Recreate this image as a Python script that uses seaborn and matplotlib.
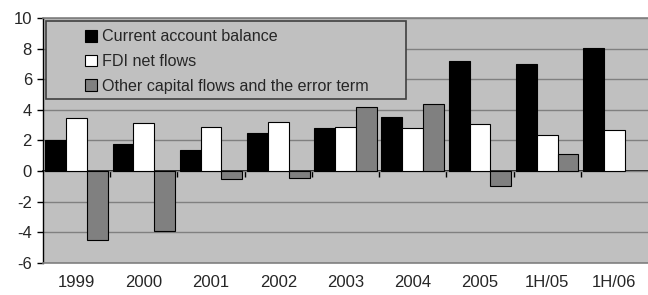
import numpy as np
import pandas as pd
import matplotlib
matplotlib.use("Agg")
import matplotlib.pyplot as plt
import seaborn as sns
from matplotlib.patches import Patch, Rectangle

categories = ["1999", "2000", "2001", "2002", "2003", "2004", "2005", "1H/05", "1H/06"]
current_account = [2.0, 1.78, 1.35, 2.45, 2.8, 3.55, 7.2, 7.0, 8.05]
fdi_net = [3.45, 3.15, 2.85, 3.2, 2.85, 2.8, 3.05, 2.35, 2.7]
other_flows = [-4.5, -3.9, -0.5, -0.45, 4.15, 4.4, -0.98, 1.1, np.nan]
series_names = ["Current account balance", "FDI net flows",
                "Other capital flows and the error term"]
series_colors = ["#000000", "#FFFFFF", "#808080"]
y_ticks = [-6, -4, -2, 0, 2, 4, 6, 8, 10]

df = pd.DataFrame({
    "cat": categories * 3,
    "series": [series_names[0]] * 9 + [series_names[1]] * 9 + [series_names[2]] * 9,
    "value": current_account + fdi_net + other_flows,
})

sns.set_theme(style="white")
plt.rcParams["font.family"] = ["Liberation Sans", "DejaVu Sans"]

fig = plt.figure(figsize=(6.48, 2.95), dpi=100)
ax = fig.add_axes([43 / 648, 32.3 / 295, 605 / 648, 244.7 / 295])
ax.set_facecolor("#C0C0C0")

sns.barplot(data=df, x="cat", y="value", hue="series", order=categories,
            hue_order=series_names, palette=series_colors, width=0.93,
            edgecolor="#000000", linewidth=0.8, saturation=1, ax=ax,
            legend=False, zorder=3)

ax.set_xlim(-0.5, len(categories) - 0.5)
ax.set_ylim(-6, 10)
ax.set_yticks(y_ticks)
ax.set_yticklabels([str(t) for t in y_ticks])
ax.yaxis.grid(True, color="#808080", linewidth=1.0)
ax.set_axisbelow(True)
ax.set_xlabel("")
ax.set_ylabel("")

for s in ["top", "bottom"]:
    ax.spines[s].set_color("#808080")
    ax.spines[s].set_linewidth(1.2)
ax.spines["right"].set_visible(False)
ax.spines["left"].set_color("#000000")
ax.spines["left"].set_linewidth(1.0)

ax.tick_params(axis="y", direction="out", length=4, width=1, color="#000000",
               labelsize=12, pad=4, left=True)
ax.tick_params(axis="x", length=0, labelsize=12, pad=9)

# zero axis line with category boundary ticks
sec = ax.secondary_xaxis(0, transform=ax.transData)
sec.set_xticks(np.arange(len(categories) - 1) + 0.5)
sec.tick_params(axis="x", direction="out", length=4, width=1, color="#000000",
                labelbottom=False)
sec.spines["bottom"].set_color("#000000")
sec.spines["bottom"].set_linewidth(1.2)

# legend
frame = Rectangle((0.005, 0.669), 0.595, 0.319, transform=ax.transAxes,
                  facecolor="#C0C0C0", edgecolor="#404040", linewidth=1.2,
                  zorder=4)
ax.add_patch(frame)
handles = [Patch(facecolor=c, edgecolor="#000000", linewidth=0.8) for c in series_colors]
leg = ax.legend(handles, series_names, loc="upper left",
                bbox_to_anchor=(0.048, 1.006), frameon=False, fontsize=11.6,
                handlelength=0.75, handleheight=0.75, handletextpad=0.3,
                labelspacing=0.6, borderpad=0.3)
leg.set_zorder(5)

fig.savefig("out.png", dpi=100)
